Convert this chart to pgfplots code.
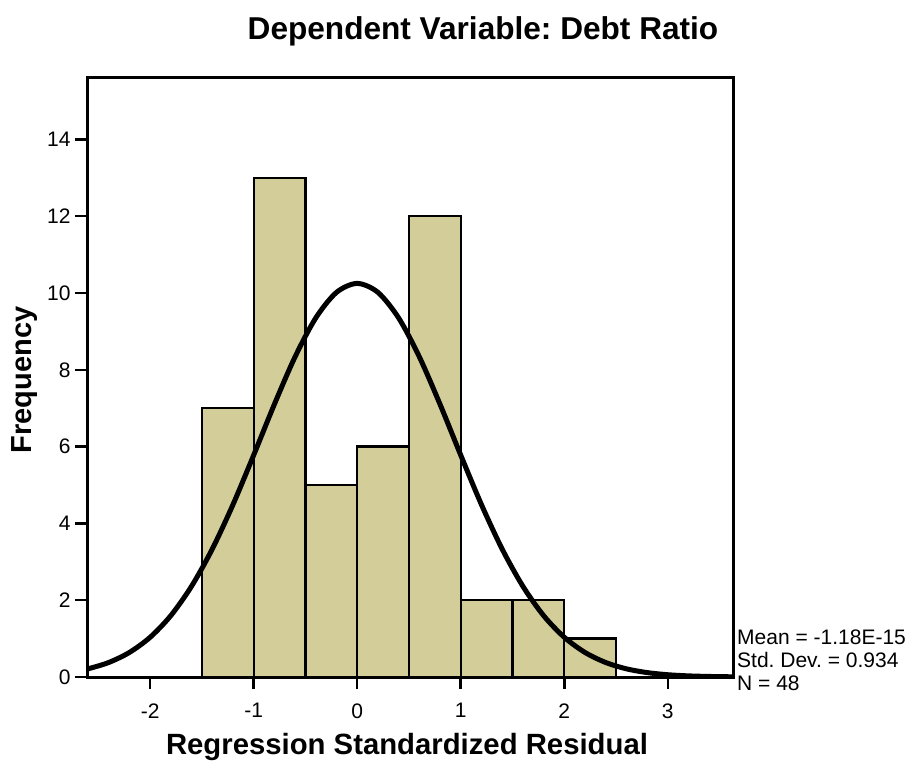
\documentclass[border=0pt]{standalone}
\usepackage{pgfplots}
\pgfplotsset{compat=1.18}
\usepackage{fontspec}
\setmainfont{Liberation Sans}
\definecolor{barfill}{RGB}{211,206,153}
\frenchspacing
\begin{document}
\begin{tikzpicture}
\path[use as bounding box] (-87pt,-83pt) rectangle (822pt,677pt);
\begin{axis}[
  at={(0pt,0pt)}, anchor=south west,
  scale only axis, width=646pt, height=599pt,
  xmin=-2.61, xmax=3.63, ymin=0, ymax=15.6,
  xtick={-2,-1,0,1,2,3}, ytick={0,2,...,14},
  tick align=outside, major tick length=12pt,
  xtick pos=bottom, ytick pos=left,
  tick style={black, line width=2.5pt},
  axis line style={line width=3pt},
  tick label style={font=\fontsize{21}{25}\selectfont},
  /pgf/number format/assume math mode=true,
  yticklabel style={xshift=-1pt},
  xticklabel style={yshift=-11pt},
]
\addplot[ybar interval, fill=barfill, draw=black, line width=2.3pt]
  coordinates {(-1.5,7) (-1,13) (-0.5,5) (0,6) (0.5,12) (1,2) (1.5,2) (2,1) (2.5,1)};
\addplot[smooth, line width=5pt, black] coordinates {
(-2.7,0.157) (-2.6,0.213) (-2.4,0.378) (-2.2,0.640) (-2.0,1.035) (-1.8,1.600)
(-1.6,2.364) (-1.4,3.333) (-1.2,4.490) (-1.0,5.778) (-0.8,7.102) (-0.6,8.339)
(-0.4,9.352) (-0.2,10.017) (0,10.25) (0.2,10.017) (0.4,9.352) (0.6,8.339)
(0.8,7.102) (1.0,5.778) (1.2,4.490) (1.4,3.333) (1.6,2.364) (1.8,1.600)
(2.0,1.035) (2.2,0.640) (2.4,0.378) (2.6,0.213) (2.8,0.115) (3.0,0.059)
(3.2,0.029) (3.4,0.014) (3.6,0.006) (3.8,0.003)};
\end{axis}
\node[font=\bfseries\fontsize{31.6}{38}\selectfont] at (396pt,646pt) {Dependent Variable: Debt Ratio};
\node[font=\bfseries\fontsize{29}{34}\selectfont, rotate=90] at (-62pt,297pt) {Frequency};
\node[font=\bfseries\fontsize{29.3}{34}\selectfont] at (320pt,-70pt) {Regression Standardized Residual};
\node[font=\fontsize{21}{23}\selectfont, anchor=west, inner sep=0pt] at (650pt,40pt) {Mean = -1.18E-15};
\node[font=\fontsize{21}{23}\selectfont, anchor=west, inner sep=0pt] at (650pt,17pt) {Std.\ Dev.\ = 0.934};
\node[font=\fontsize{21}{23}\selectfont, anchor=west, inner sep=0pt] at (650pt,-6pt) {N = 48};
\end{tikzpicture}
\end{document}
